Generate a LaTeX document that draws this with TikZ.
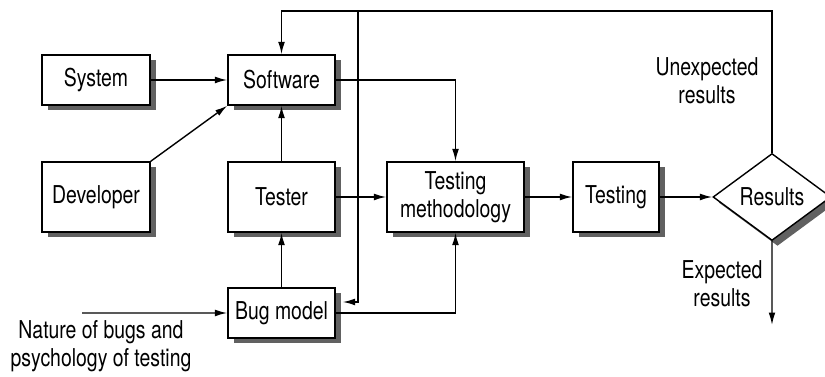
\documentclass[tikz,border=0pt]{standalone}
\usepackage{fontspec}
\setmainfont{TeX Gyre Heros}[FakeStretch=0.79]
\usetikzlibrary{arrows.meta,positioning,shapes.geometric,shadows}

\begin{document}
\begin{tikzpicture}[>={Latex[length=7pt,width=3.8pt]}, on grid, line width=0.8pt,
  font=\fontsize{14}{15.9}\selectfont,
  block/.style={draw, fill=white, align=center, inner sep=0pt,
    drop shadow={shadow xshift=0.11cm, shadow yshift=-0.11cm, fill=black!62, opacity=1}},
  shortbox/.style={block, minimum height=1cm},
  tallbox/.style={block, minimum height=1.4cm},
  decision/.style={block, diamond, minimum width=2.36cm, minimum height=1.74cm}]
			\useasboundingbox (0,0) rectangle (16.5,-7.54);
			% blocks
			\node[shortbox, minimum width=2.16cm] (sys) at (1.92,-1.6) {System};
			\node[shortbox, minimum width=2.14cm] (sw) [right=3.71cm of sys] {Software};
			\node[tallbox, minimum width=2.16cm] (dev) [below=2.34cm of sys] {Developer};
			\node[tallbox, minimum width=2.14cm] (tst) [below=2.34cm of sw] {Tester};
			\node[shortbox, minimum width=2.14cm] (bug) [below=2.32cm of tst] {Bug model};
			\node[tallbox, minimum width=2.74cm] (meth) [right=3.48cm of tst] {Testing\\methodology};
			\node[tallbox, minimum width=1.72cm] (run) [right=3.21cm of meth] {Testing};
			\node[decision] (res) [right=3.12cm of run] {Results};
			% labels
			\node[align=center] (unexp) at (14.14,-1.62) {Unexpected\\results};
			\node[align=center] (exp) at (14.44,-5.68) {Expected\\results};
			\node[align=center] (nature) at (2.02,-6.92) {Nature of bugs and\\psychology of testing};
			\coordinate (top) at (7.16,-0.22);
			\coordinate (src) at (1.64,-6.26);
			\coordinate (out) at (15.44,-6.5);
			\path [->]
			    (sys) edge (sw)
			    (dev.north east) edge (sw.south west)
			    (tst) edge (sw)
			    (bug) edge (tst)
			    (tst) edge (meth)
			    (meth) edge (run)
			    (run) edge (res)
			    (src) edge (bug)
			    (res) edge (out)
			;
			\draw[->] (res.north) -- (res.north |- top) -| (sw.north);
			\draw[->] (top) |- ([shift={(0.14,0.22)}]bug.east);
			\draw[->] (sw.east) -| (meth.north);
			\draw[->] (bug.east) -| (meth.south);
		\end{tikzpicture}
\end{document}
